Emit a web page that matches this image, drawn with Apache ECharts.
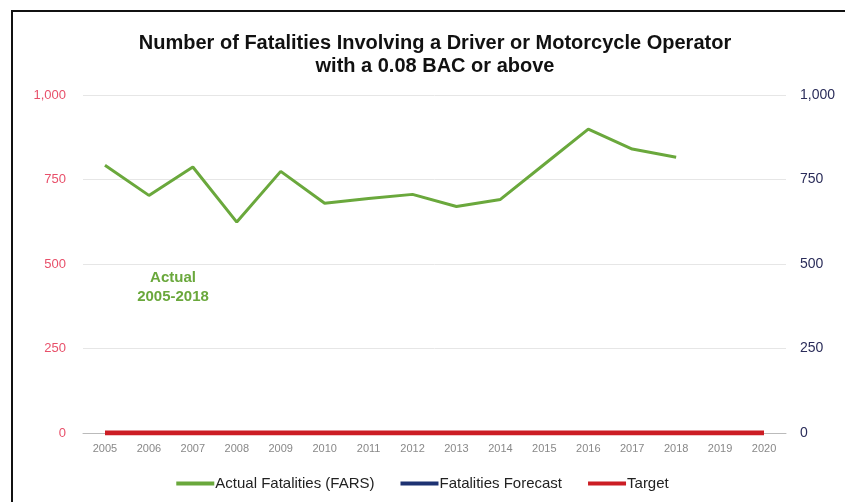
<!DOCTYPE html>
<html>
<head>
<meta charset="utf-8">
<script src="https://cdn.jsdelivr.net/npm/echarts@6/dist/echarts.min.js"></script>
<style>
  html, body { margin: 0; padding: 0; background: #fff; }
  #chart { width: 845px; height: 502px; }
</style>
</head>
<body>
<div id="chart"></div>
<script>
const years = ["2005", "2006", "2007", "2008", "2009", "2010", "2011", "2012",
  "2013", "2014", "2015", "2016", "2017", "2018", "2019", "2020"];
const actual = [792, 703, 787, 624, 774, 680, 694, 706, 670, 691, 795, 899, 840, 816];
const forecast = [];
const target = [0, 0, 0, 0, 0, 0, 0, 0, 0, 0, 0, 0, 0, 0, 0, 0];
const yTicks = [0, 250, 500, 750, 1000];

const fmt = (v) => v.toLocaleString("en-US");

const chart = echarts.init(document.getElementById("chart"));

chart.setOption({
  animation: false,
  textStyle: { fontFamily: "Liberation Sans" },
  title: {
    text: "Number of Fatalities Involving a Driver or Motorcycle Operator\nwith a 0.08 BAC or above",
    left: 430,
    textAlign: "center",
    top: 27,
    textStyle: {
      fontFamily: "Liberation Sans",
      fontSize: 20,
      fontWeight: "bold",
      color: "#111",
      lineHeight: 23,
    },
  },
  grid: { left: 83, right: 59, top: 95, bottom: 69 },
  legend: {
    bottom: 6,
    left: "center",
    itemWidth: 38,
    itemHeight: 4,
    itemGap: 26,
    icon: "rect",
    textStyle: { fontSize: 15, color: "#222", padding: [0, 0, 0, -4] },
    data: ["Actual Fatalities (FARS)", "Fatalities Forecast", "Target"],
  },
  xAxis: {
    type: "category",
    data: years,
    axisLine: { lineStyle: { color: "#bbb" } },
    axisTick: { show: false },
    axisLabel: { color: "#888", fontSize: 11, interval: 0, margin: 10 },
  },
  yAxis: [
    {
      type: "value",
      min: yTicks[0],
      max: yTicks[yTicks.length - 1],
      interval: 250,
      axisLine: { show: false },
      axisTick: { show: false },
      axisLabel: { color: "#e8506a", fontSize: 13, margin: 17, formatter: fmt },
      splitLine: { lineStyle: { color: "#e6e6e6" } },
    },
    {
      type: "value",
      min: yTicks[0],
      max: yTicks[yTicks.length - 1],
      interval: 250,
      position: "right",
      axisLine: { show: false },
      axisTick: { show: false },
      axisLabel: { color: "#2b2d5a", fontSize: 14, margin: 14, formatter: fmt },
      splitLine: { show: false },
    },
  ],
  graphic: [
    {
      type: "rect",
      shape: { x: 12, y: 11, width: 845, height: 520 },
      style: { fill: "none", stroke: "#111", lineWidth: 2 },
      silent: true,
    },
    {
      type: "text",
      x: 173,
      y: 268,
      style: {
        text: "Actual\n2005-2018",
        fill: "#6aa83c",
        font: "bold 15px Liberation Sans",
        align: "center",
        lineHeight: 19,
      },
    },
  ],
  series: [
    {
      name: "Actual Fatalities (FARS)",
      type: "line",
      data: actual,
      symbol: "none",
      lineStyle: { color: "#6aa83c", width: 3 },
      itemStyle: { color: "#6aa83c" },
      z: 3,
    },
    {
      name: "Fatalities Forecast",
      type: "line",
      data: forecast,
      symbol: "none",
      lineStyle: { color: "#1d3272", width: 3 },
      itemStyle: { color: "#1d3272" },
    },
    {
      name: "Target",
      type: "line",
      data: target,
      symbol: "none",
      lineStyle: { color: "#cc1d24", width: 5 },
      itemStyle: { color: "#cc1d24" },
      z: 4,
    },
  ],
});
</script>
</body>
</html>
